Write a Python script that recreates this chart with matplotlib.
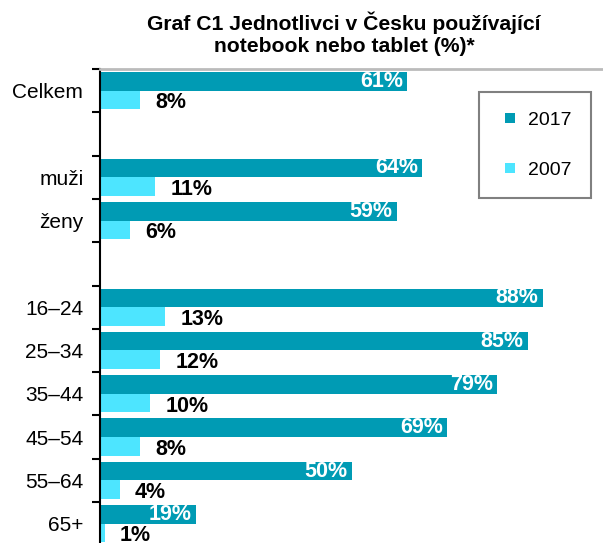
import matplotlib
matplotlib.use("Agg")
import matplotlib.pyplot as plt
from matplotlib.lines import Line2D

plt.rcParams['font.family'] = ['Liberation Sans', 'DejaVu Sans']

categories = ["Celkem", "", "muži", "ženy", "", "16–24", "25–34", "35–44", "45–54", "55–64", "65+"]
values_2017 = [61, None, 64, 59, None, 88, 85, 79, 69, 50, 19]
values_2007 = [8, None, 11, 6, None, 13, 12, 10, 8, 4, 1]
series_names = ["2017", "2007"]
title = "Graf C1 Jednotlivci v Česku používající\nnotebook nebo tablet (%)*"

c2017 = "#009BB4"
c2007 = "#4DE5FF"

W, H = 603, 543
fig = plt.figure(figsize=(W / 100, H / 100), dpi=100)
top_px, bot_px, left_px = 69, 545.3, 100
ax = fig.add_axes([left_px / W, 1 - bot_px / H, 1 - left_px / W, (bot_px - top_px) / H])

n = len(categories)
bh = 0.43
for i, (a, b) in enumerate(zip(values_2017, values_2007)):
    if a is None:
        continue
    ax.barh(i - bh / 2, a, height=bh, color=c2017, linewidth=0)
    ax.barh(i + bh / 2, b, height=bh, color=c2007, linewidth=0)
    ax.annotate(f"{a}%", xy=(a, i - bh / 2), xytext=(-4, 0), textcoords="offset pixels",
                ha="right", va="center", color="white", fontsize=15.5, fontweight="bold")
    ax.annotate(f"{b}%", xy=(b, i + bh / 2), xytext=(15, -3), textcoords="offset pixels",
                ha="left", va="center", color="black", fontsize=15.5, fontweight="bold")

ax.set_xlim(0, 100)
ax.set_ylim(n - 0.5, -0.5)
ax.set_yticks([i + 0.5 for i in range(-1, n)])
ax.set_yticklabels([])
ax.tick_params(axis="y", direction="out", length=6, width=1.5, color="black")
ax.set_yticks(range(n), minor=True)
ax.set_yticklabels(categories, minor=True, fontsize=15)
ax.tick_params(axis="y", which="minor", length=0, pad=12)
ax.set_xticks([])
for s in ["right", "bottom"]:
    ax.spines[s].set_visible(False)
ax.spines["left"].set_linewidth(1.5)
ax.spines["top"].set_color("#bbbbbb")
ax.spines["top"].set_linewidth(2)

fig.text(344 / W, 1 - 11 / H, title, ha="center", va="top",
         fontsize=15.2, fontweight="bold", linespacing=1.25)

handles = [Line2D([], [], linestyle="none", marker="s", markersize=7.2, markeredgewidth=0,
                  markerfacecolor=c) for c in (c2017, c2007)]
leg = fig.legend(handles, series_names, loc="upper left", bbox_to_anchor=(479 / W, 1 - 92 / H),
                 bbox_transform=fig.transFigure, borderaxespad=0, fontsize=14,
                 handlelength=1.2, handletextpad=0.3,
                 labelspacing=1.65, borderpad=1.0, fancybox=False, framealpha=1)
leg.get_frame().set_edgecolor("#808080")
leg.get_frame().set_linewidth(1.5)

fig.savefig("out.png", dpi=100)
